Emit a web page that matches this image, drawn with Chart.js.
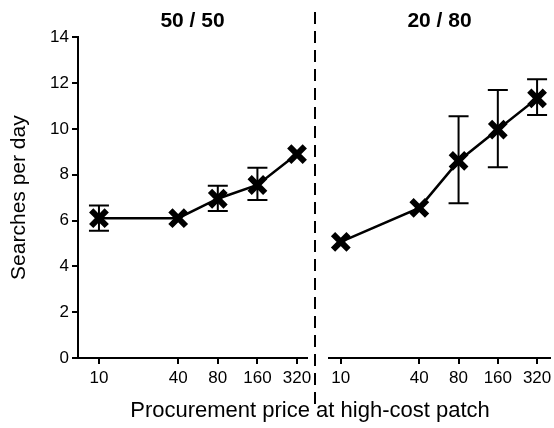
<!DOCTYPE html>
<html>
<head>
<meta charset="utf-8">
<script src="https://cdn.jsdelivr.net/npm/chart.js@4"></script>
<style>
  body { margin: 0; background: #fff; overflow: hidden; }
  #wrap { position: relative; width: 554px; height: 428px; overflow: hidden; font-family: "Liberation Sans", Arial, sans-serif; }
  #left { position: absolute; left: 0; top: 0; }
  #right { position: absolute; left: 312px; top: 0; }
  #xtitle { position: absolute; left: 0; width: 620px; top: 397px; line-height: 26px; text-align: center; font-size: 22px; color: #000; }
</style>
</head>
<body>
<div id="wrap">
  <canvas id="left" width="340" height="428"></canvas>
  <canvas id="right" width="262" height="428"></canvas>
  <div id="xtitle">Procurement price at high-cost patch</div>
</div>
<script>
// procurement price levels (log axis)
const prices = [10, 40, 80, 160, 320];
const xTicks = [10, 40, 80, 160, 320];
const yTicks = [0, 2, 4, 6, 8, 10, 12, 14];

// 50 / 50 condition
const mean5050 = [6.1, 6.1, 6.95, 7.55, 8.9];
const low5050  = [5.55, 6.0, 6.42, 6.9, 8.8];
const high5050 = [6.65, 6.2, 7.52, 8.3, 9.0];

// 20 / 80 condition
const mean2080 = [5.07, 6.55, 8.6, 9.97, 11.33];
const low2080  = [5.0, 6.45, 6.75, 8.32, 10.6];
const high2080 = [5.15, 6.65, 10.55, 11.7, 12.17];

// draws vertical error bars with caps
const errorBars = {
    id: 'errorBars',
    afterDatasetsDraw(chart, args, opts) {
        const ctx = chart.ctx;
        const x = chart.scales.x, y = chart.scales.y;
        ctx.save();
        ctx.strokeStyle = '#000';
        ctx.lineWidth = 2;
        for (let i = 0; i < prices.length; i++) {
            const px = x.getPixelForValue(prices[i]);
            const yl = y.getPixelForValue(opts.low[i]);
            const yh = y.getPixelForValue(opts.high[i]);
            if (Math.abs(yl - yh) < 6) continue;
            ctx.beginPath();
            ctx.moveTo(px, yl); ctx.lineTo(px, yh);
            ctx.moveTo(px - 10, yl); ctx.lineTo(px + 10, yl);
            ctx.moveTo(px - 10, yh); ctx.lineTo(px + 10, yh);
            ctx.stroke();
        }
        ctx.restore();
    }
};

// dashed separator between the panels
const separator = {
    id: 'separator',
    afterDraw(chart, args, opts) {
        if (!opts.show) return;
        const ctx = chart.ctx;
        ctx.save();
        ctx.strokeStyle = '#000';
        ctx.lineWidth = 2;
        ctx.setLineDash([12, 7]);
        ctx.beginPath();
        ctx.moveTo(3, 12);
        ctx.lineTo(3, 405);
        ctx.stroke();
        ctx.restore();
    }
};

function makeChart(id, title, means, low, high, xmin, xmax, isLeft) {
    return new Chart(document.getElementById(id), {
        type: 'line',
        data: {
            datasets: [{
                data: prices.map((p, i) => ({ x: p, y: means[i] })),
                borderColor: '#000',
                borderWidth: 2.5,
                pointStyle: 'crossRot',
                pointRadius: 11,
                pointBorderWidth: 6,
                pointBorderColor: '#000',
                pointBackgroundColor: '#000',
                tension: 0
            }]
        },
        options: {
            responsive: false,
            animation: false,
            layout: { padding: { left: isLeft ? 0 : 13, right: isLeft ? 33 : 24, top: 0, bottom: 0 } },
            scales: {
                x: {
                    type: 'logarithmic',
                    min: xmin,
                    max: xmax,
                    afterBuildTicks: s => { s.ticks = xTicks.map(v => ({ value: v })); },
                    afterFit: s => { s.height = 70; },
                    ticks: {
                        autoSkip: false,
                        maxRotation: 0,
                        color: '#000',
                        padding: 4,
                        font: { family: 'Liberation Sans', size: 17 },
                        callback: v => String(v)
                    },
                    grid: { drawOnChartArea: false, drawTicks: true, tickLength: 6, color: '#000', lineWidth: 2 },
                    border: { color: '#000', width: 2 }
                },
                y: {
                    display: isLeft,
                    min: 0,
                    max: 14,
                    afterBuildTicks: s => { s.ticks = yTicks.map(v => ({ value: v })); },
                    afterFit: s => { if (isLeft) s.width = 78; },
                    ticks: {
                        color: '#000',
                        padding: 3,
                        font: { family: 'Liberation Sans', size: 17 }
                    },
                    grid: { drawOnChartArea: false, drawTicks: true, tickLength: 6, color: '#000', lineWidth: 2 },
                    border: { color: '#000', width: 2 },
                    title: {
                        display: true,
                        text: 'Searches per day',
                        color: '#000',
                        padding: { top: 7, bottom: 0 },
                        font: { family: 'Liberation Sans', size: 21 }
                    }
                }
            },
            plugins: {
                legend: { display: false },
                tooltip: { enabled: false },
                title: {
                    display: true,
                    text: title,
                    fullSize: false,
                    color: '#000',
                    font: { family: 'Liberation Sans', size: 21, weight: 'bold' },
                    padding: { top: 9, bottom: 3 }
                },
                errorBars: { low: low, high: high },
                separator: { show: !isLeft }
            }
        },
        plugins: [errorBars, separator]
    });
}

makeChart('left', '50 / 50', mean5050, low5050, high5050, 6.93, 381, true);
makeChart('right', '20 / 80', mean2080, low2080, high2080, 8.12, 402, false);
</script>
</body>
</html>
